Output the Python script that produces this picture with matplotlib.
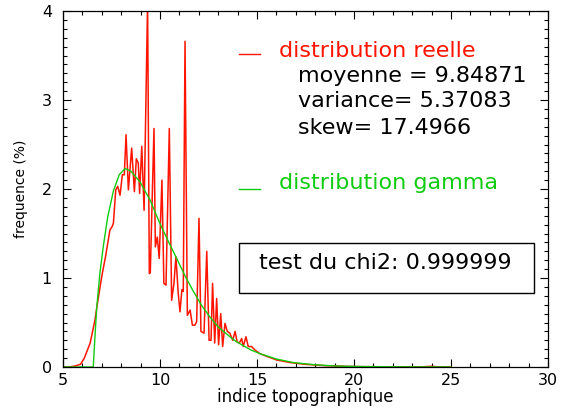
import matplotlib
matplotlib.use('Agg')
import matplotlib.pyplot as plt
from matplotlib.patches import Rectangle
from matplotlib.lines import Line2D

# distribution reelle (histogram)
x_reel = [5.0, 5.3, 5.6, 5.9, 6.1, 6.4, 6.65, 6.75, 7.0, 7.2, 7.42, 7.54, 7.6,
          7.72, 7.82, 7.94, 8.06, 8.16, 8.25, 8.37, 8.54, 8.68, 8.78, 8.88, 8.95,
          9.06, 9.18, 9.36, 9.45, 9.5, 9.69, 9.76, 9.86, 9.96, 10.1, 10.2, 10.31,
          10.48, 10.6, 10.72, 10.82, 10.94, 11.03, 11.13, 11.2, 11.29, 11.41,
          11.55, 11.67, 11.8, 11.89, 12.01, 12.11, 12.27, 12.41, 12.53, 12.63,
          12.71, 12.82, 12.92, 13.02, 13.13, 13.23, 13.35, 13.47, 13.6, 13.75,
          13.87, 13.98, 14.09, 14.21, 14.29, 14.43, 14.55, 14.72, 14.9, 15.15,
          15.5, 16.0, 16.7, 17.5, 18.5, 19.5, 20.5, 22.0, 23.5, 24.0, 24.3, 25.0]
y_reel = [0.0, 0.0, 0.01, 0.03, 0.1, 0.27, 0.53, 0.68, 1.02, 1.25, 1.54, 1.58, 1.62,
          1.99, 2.03, 1.93, 2.16, 2.16, 2.61, 1.99, 2.46, 1.97, 2.34, 2.29, 1.95,
          2.48, 1.76, 4.1, 1.05, 1.06, 2.68, 1.35, 1.46, 1.22, 2.10, 0.94, 0.92,
          2.68, 0.75, 0.94, 1.24, 0.83, 0.62, 0.87, 0.85, 3.66, 0.58,
          0.64, 0.47, 0.47, 0.51, 1.67, 0.40, 0.38, 1.30, 0.30, 0.30,
          0.94, 0.27, 0.77, 0.25, 0.60, 0.23, 0.49, 0.40, 0.38, 0.30,
          0.40, 0.28, 0.27, 0.32, 0.23, 0.34, 0.23, 0.23, 0.19, 0.15,
          0.12, 0.08, 0.05, 0.03, 0.015, 0.008, 0.004, 0.002, 0.002, 0.008, 0.002, 0.0]

# distribution gamma (fitted curve)
x_gamma = [5.0, 6.56, 6.65, 6.74, 6.9, 7.08, 7.3, 7.6, 7.9, 8.2, 8.5, 8.97, 9.5,
           10.0, 10.5, 10.86, 11.3, 11.72, 12.15, 12.58, 13.0, 13.44, 13.9,
           14.29, 14.7, 15.15, 16.0, 16.87, 18.0, 19.0, 20.0, 22.0, 25.0]
y_gamma = [0.0, 0.0, 0.35, 0.67, 1.05, 1.36, 1.68, 1.98, 2.16, 2.23, 2.2, 2.08, 1.87,
           1.61, 1.38, 1.22, 1.02, 0.85, 0.69, 0.56, 0.45, 0.37, 0.29,
           0.24, 0.19, 0.15, 0.09, 0.05, 0.025, 0.012, 0.006, 0.002, 0.0]

stats = ['moyenne = 9.84871', 'variance= 5.37083', 'skew= 17.4966']
chi2_text = 'test du chi2: 0.999999'

plt.rcParams['font.family'] = ['DejaVu Sans']

fig = plt.figure(figsize=(5.66, 4.12), dpi=100)
ax = fig.add_axes([0.1113, 0.1092, 0.8569, 0.8641])

ax.plot(x_reel, y_reel, color='#ff1400', lw=1.1)
ax.plot(x_gamma, y_gamma, color='#10cc10', lw=1.0)

ax.set_xlim(5, 30)
ax.set_ylim(0, 4)
ax.set_xticks([5, 10, 15, 20, 25, 30])
ax.set_xticks(range(5, 31), minor=True)
ax.set_yticks([0, 1, 2, 3, 4])
ax.set_yticks([i / 10 for i in range(41)], minor=True)
ax.tick_params(which='both', direction='in', top=True, right=True, width=0.8)
ax.tick_params(which='major', length=6, labelsize=11.5)
ax.tick_params(which='minor', length=3)
ax.tick_params(axis='x', pad=4)
ax.tick_params(axis='y', pad=8)
for s in ax.spines.values():
    s.set_linewidth(0.9)

ax.set_xlabel('indice topographique', fontsize=12, labelpad=0)
ax.set_ylabel('frequence (%)', fontsize=10, labelpad=10)

# legend-like annotations
fs = 16
ax.add_line(Line2D([0.363, 0.406], [0.879, 0.879], transform=ax.transAxes,
                   color='#ff1400', lw=1.0))
ax.text(0.445, 0.872, 'distribution reelle', color='#ff1400', fontsize=fs,
        transform=ax.transAxes, va='baseline')
for yb, s in zip([0.800, 0.7295, 0.6545], stats):
    ax.text(0.4845, yb, s, color='black', fontsize=fs, transform=ax.transAxes,
            va='baseline')
ax.add_line(Line2D([0.363, 0.406], [0.5, 0.5], transform=ax.transAxes,
                   color='#10cc10', lw=1.0))
ax.text(0.445, 0.499, 'distribution gamma', color='#10cc10', fontsize=fs,
        transform=ax.transAxes, va='baseline')

ax.add_patch(Rectangle((0.363, 0.208), 0.608, 0.140, transform=ax.transAxes,
                       fill=False, edgecolor='black', lw=1.0))
ax.text(0.404, 0.275, chi2_text, fontsize=fs, transform=ax.transAxes,
        va='baseline')

fig.savefig('out.png', dpi=100)
